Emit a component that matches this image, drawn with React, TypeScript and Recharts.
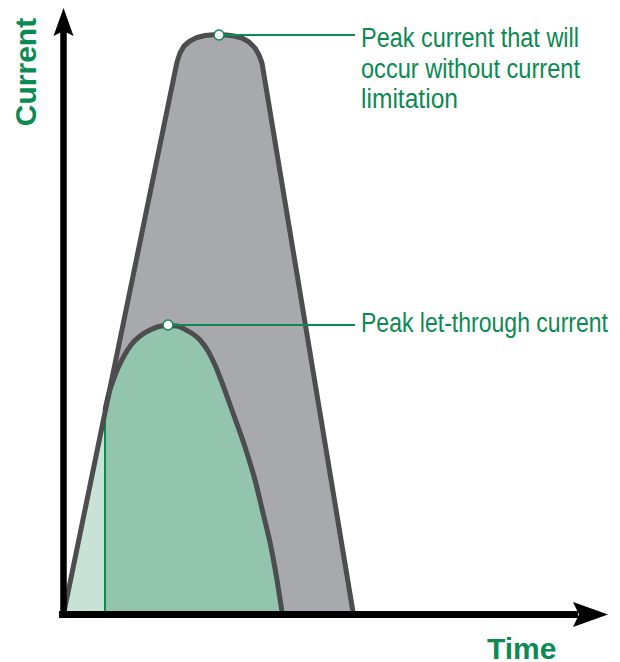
import React from 'react';
import {
  ComposedChart,
  Area,
  Line,
  XAxis,
  YAxis,
  ReferenceLine,
  ReferenceDot
} from 'recharts';

// prospective current (no limitation): time / current, arbitrary units
const prospectiveTime = [1, 114, 117, 121, 127, 134, 142, 150, 156, 163, 171, 179, 186, 192, 196, 199, 290];
const prospectiveCurrent = [0, 550, 559, 566, 571, 574.5, 576.5, 577.2, 577.3, 577, 576, 574, 570, 564, 557, 549, 0];

// let-through current after the limiter reacts
const letThroughTime = [42, 46, 50, 55, 61, 68, 77, 87, 96, 105, 114, 123, 137, 145, 152, 158, 170, 182, 192, 200, 208, 214, 219];
const letThroughCurrent = [202, 219, 231, 244, 256, 267, 276, 282, 285.5, 286.5, 286, 282, 272, 261, 247, 232, 199, 165, 132, 99, 65, 32, 0];

// rising part before the limiter reacts
const riseTime = [1, 42];
const riseCurrent = [0, 202];

const reactTime = 42;
const peakProspective = { t: 156, i: 577 };
const peakLetThrough = { t: 105, i: 287 };
const labelTime = 292;

const prospective = prospectiveTime.map((t, k) => ({ t, i: prospectiveCurrent[k] }));
const letThrough = letThroughTime.map((t, k) => ({ t, i: letThroughCurrent[k] }));
const rise = riseTime.map((t, k) => ({ t, i: riseCurrent[k] }));
const reactLine = [
  { t: reactTime, i: 0 },
  { t: reactTime, i: riseCurrent[1] }
];

const GREEN = '#0b8a52';
const OUTLINE = '#4d4d4f';
const SANS = '"Liberation Sans", Arial, sans-serif';

const UpArrow = ({ cx, cy }: any) => (
  <path d={`M${cx},${cy} L${cx + 10},${cy + 28} L${cx},${cy + 23} L${cx - 10},${cy + 28} Z`} fill="#000" />
);

const RightArrow = ({ cx, cy }: any) => (
  <path d={`M${cx},${cy} L${cx - 35},${cy - 12.5} L${cx - 29},${cy} L${cx - 35},${cy + 12.5} Z`} fill="#000" />
);

// condensed note text: squeeze to the width it has in the original
const Note = ({ x, y, w, children }: any) => (
  <text x={x} y={y} textLength={w} lengthAdjust="spacingAndGlyphs">
    {children}
  </text>
);

const App = () => {
  return (
    <div style={{ position: 'absolute', left: 0, top: 0, width: 620, height: 662, background: '#fff' }}>
      <ComposedChart
        width={620}
        height={662}
        margin={{ top: 12, right: 17, bottom: 50, left: 63 }}
      >
        <XAxis type="number" dataKey="t" domain={[0, 540]} hide />
        <YAxis type="number" dataKey="i" domain={[0, 600]} hide />

        <Area
          data={prospective}
          dataKey="i"
          type="linear"
          fill="#a8a9ad"
          fillOpacity={1}
          stroke="none"
          isAnimationActive={false}
        />
        <Area
          data={rise}
          dataKey="i"
          type="linear"
          fill="#c9e2d6"
          fillOpacity={1}
          stroke="none"
          isAnimationActive={false}
        />
        <Area
          data={letThrough}
          dataKey="i"
          type="monotone"
          fill="#93c4ad"
          fillOpacity={1}
          stroke={OUTLINE}
          strokeWidth={5}
          isAnimationActive={false}
        />
        <Line
          data={reactLine}
          dataKey="i"
          type="linear"
          stroke={GREEN}
          strokeWidth={2}
          dot={false}
          isAnimationActive={false}
        />
        <Line
          data={prospective}
          dataKey="i"
          type="linear"
          stroke={OUTLINE}
          strokeWidth={5}
          strokeLinejoin="round"
          dot={false}
          isAnimationActive={false}
        />

        {/* axes with arrows */}
        <ReferenceLine
          segment={[{ x: 0.5, y: -6 }, { x: 0.5, y: 585 }]}
          stroke="#000"
          strokeWidth={6.5}
          ifOverflow="visible"
        />
        <ReferenceLine
          segment={[{ x: -4, y: -2.5 }, { x: 515, y: -2.5 }]}
          stroke="#000"
          strokeWidth={7}
          ifOverflow="visible"
        />
        <ReferenceDot x={0.5} y={604} r={1} ifOverflow="visible" shape={UpArrow} />
        <ReferenceDot x={545} y={-2.5} r={1} ifOverflow="visible" shape={RightArrow} />

        {/* leader lines to the notes */}
        <ReferenceLine
          segment={[{ x: peakProspective.t, y: peakProspective.i }, { x: labelTime, y: peakProspective.i }]}
          stroke={GREEN}
          strokeWidth={2}
        />
        <ReferenceLine
          segment={[{ x: peakLetThrough.t, y: peakLetThrough.i }, { x: labelTime, y: peakLetThrough.i }]}
          stroke={GREEN}
          strokeWidth={2}
        />
        <ReferenceDot x={peakProspective.t} y={peakProspective.i} r={5} fill="#fff" stroke={GREEN} strokeWidth={1.5} />
        <ReferenceDot x={peakLetThrough.t} y={peakLetThrough.i} r={5} fill="#fff" stroke={GREEN} strokeWidth={1.5} />
      </ComposedChart>

      <svg width={620} height={662} style={{ position: 'absolute', left: 0, top: 0, pointerEvents: 'none' }}>
        <g fill={GREEN} fontFamily={SANS} fontSize={27}>
          <Note x={361} y={47} w={218}>Peak current that will</Note>
          <Note x={361} y={78} w={219}>occur without current</Note>
          <Note x={361} y={108} w={97}>limitation</Note>
          <Note x={361} y={332} w={247}>Peak let-through current</Note>
        </g>
        <g fill={GREEN} fontFamily={SANS} fontWeight="bold" fontSize={30}>
          <text x={36} y={72} textAnchor="middle" transform="rotate(-90 36 72)">Current</text>
          <text x={487} y={659}>Time</text>
        </g>
      </svg>
    </div>
  );
};

export default App;
